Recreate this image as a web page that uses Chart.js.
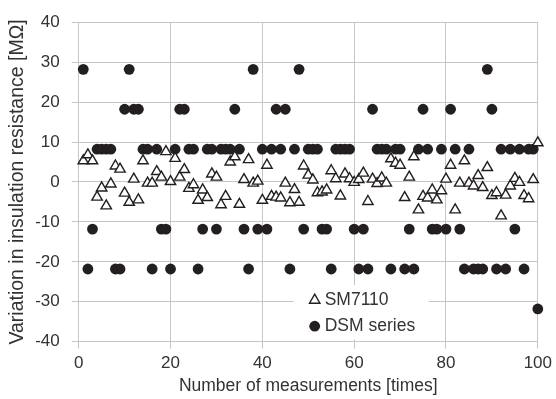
<!DOCTYPE html>
<html><head><meta charset="utf-8">
<script src="https://cdn.jsdelivr.net/npm/chart.js@4.4.0/dist/chart.umd.min.js"></script>
<style>html,body{margin:0;padding:0;background:#fff;}#wrap{width:556px;height:399px;}</style>
</head><body><div id="wrap"><canvas id="c" width="556" height="399"></canvas></div>
<script>
const measurements = [1,2,3,4,5,6,7,8,9,10,11,12,13,14,15,16,17,18,19,20,21,22,23,24,25,26,27,28,29,30,31,32,33,34,35,36,37,38,39,40,41,42,43,44,45,46,47,48,49,50,51,52,53,54,55,56,57,58,59,60,61,62,63,64,65,66,67,68,69,70,71,72,73,74,75,76,77,78,79,80,81,82,83,84,85,86,87,88,89,90,91,92,93,94,95,96,97,98,99,100];
const sm7110 = [5.3,6.8,5.3,-3.8,-1.5,-6.0,-0.5,4.0,3.2,-2.8,-5.1,0.7,-4.5,5.3,-0.3,-0.3,2.6,1.2,7.6,0.1,5.9,1.2,3.1,-1.6,-0.7,-4.6,-2.0,-3.9,2.0,1.2,-5.7,-3.6,5.0,6.3,-5.6,0.6,5.6,-0.3,0.2,-4.6,4.2,-3.6,-3.8,-4.0,-0.3,-5.2,-1.9,-5.1,4.0,1.7,0.5,-2.7,-2.5,-2.0,2.8,0.8,-3.5,2.0,0.8,-0.1,0.6,2.2,-4.9,0.7,-0.4,1.0,-0.3,5.8,4.7,4.2,-3.9,1.2,6.3,-7.0,-3.6,-4.0,-2.0,-4.5,-2.2,0.7,4.2,-7.0,-0.3,5.3,-0.3,-1.0,1.6,-1.4,3.6,-3.4,-2.7,-8.5,-3.3,-1.0,0.9,-0.1,-3.4,-4.2,0.6,9.8];
const dsmSeries = [28.2,-21.8,-11.8,8.2,8.2,8.2,8.2,-21.8,-21.8,18.2,28.2,18.2,18.2,8.2,8.2,-21.8,8.2,-11.8,-11.8,-21.8,8.2,18.2,18.2,8.2,8.2,-21.8,-11.8,8.2,8.2,-11.8,8.2,8.2,8.2,18.2,8.2,-11.8,-21.8,28.2,-11.8,8.2,-11.8,8.2,18.2,8.2,18.2,-21.8,8.2,28.2,-11.8,8.2,8.2,8.2,-11.8,-11.8,-21.8,8.2,8.2,8.2,8.2,-11.8,-21.8,-11.8,-21.8,18.2,8.2,8.2,8.2,-21.8,8.2,8.2,-21.8,-11.8,-21.8,8.2,18.2,8.2,-11.8,-11.8,8.2,-11.8,18.2,8.2,-11.8,-21.8,8.2,-21.8,-21.8,-21.8,28.2,18.2,-21.8,8.2,-21.8,8.2,-11.8,8.2,-21.8,8.2,8.2,-31.8];
const xTickValues = [0,20,40,60,80,100];
const yTickValues = [-40,-30,-20,-10,0,10,20,30,40];
const seriesNames = ['SM7110','DSM series'];

const INK = '#231f20';
const TEXT = '#333333';
const GRID = '#c6c6c6';
const FONT = 'Liberation Sans, Arial, sans-serif';

const toPoints = (vals) => measurements.map((m, i) => ({x: m, y: vals[i]}));

const legendBox = {
  id: 'legendBox',
  afterDatasetsDraw(chart) {
    const ctx = chart.ctx;
    const a = chart.chartArea;
    const bx = a.left + 215, by = a.top + 263, bw = 135, bh = 54;
    ctx.save();
    ctx.fillStyle = '#ffffff';
    ctx.fillRect(bx, by, bw, bh);
    const rows = [
      {ds: chart.data.datasets[0], y: by + 15},
      {ds: chart.data.datasets[1], y: by + 41}
    ];
    rows.forEach(r => {
      ctx.fillStyle = r.ds.backgroundColor; ctx.strokeStyle = r.ds.borderColor;
      ctx.lineWidth = r.ds.borderWidth;
      Chart.helpers.drawPoint(ctx, {
        pointStyle: r.ds.pointStyle, radius: r.ds.pointRadius, rotation: 0,
        borderWidth: r.ds.borderWidth
      }, bx + 21, r.y);
      ctx.fillStyle = TEXT;
      ctx.font = '17.5px ' + FONT;
      ctx.textBaseline = 'middle';
      ctx.textAlign = 'left';
      ctx.fillText(r.ds.label, bx + 31, r.y);
    });
    ctx.restore();
  }
};

new Chart(document.getElementById('c'), {
  type: 'scatter',
  data: {
    datasets: [
      {label: seriesNames[0], data: toPoints(sm7110), pointStyle: 'triangle', pointRadius: 6,
       borderColor: INK, backgroundColor: '#ffffff', borderWidth: 1.4, showLine: false, clip: false},
      {label: seriesNames[1], data: toPoints(dsmSeries), pointStyle: 'circle', pointRadius: 5.4,
       borderColor: INK, backgroundColor: INK, borderWidth: 0, showLine: false, clip: false}
    ]
  },
  options: {
    responsive: false, animation: false, devicePixelRatio: 1,
    layout: {padding: {left: 0, right: 16, top: 19, bottom: 0}},
    plugins: {legend: {display: false}, tooltip: {enabled: false}},
    scales: {
      x: {
        type: 'linear', min: 0, max: 100,
        afterBuildTicks: (s) => { s.ticks = xTickValues.map(v => ({value: v})); },
        afterFit: (s) => { s.height = 57.3; },
        grid: {color: GRID, lineWidth: 1, tickLength: 7, drawTicks: true},
        border: {color: GRID, width: 1},
        ticks: {color: TEXT, font: {family: FONT, size: 17}, padding: 4, maxRotation: 0},
        title: {display: true, text: 'Number of measurements [times]', color: TEXT,
                font: {family: FONT, size: 17.5}, padding: {top: 0, bottom: 2}}
      },
      y: {
        type: 'linear', min: -40, max: 40,
        afterBuildTicks: (s) => { s.ticks = yTickValues.map(v => ({value: v})); },
        afterFit: (s) => { s.width = 78.7; },
        grid: {color: GRID, lineWidth: 1, tickLength: 7, drawTicks: true},
        border: {color: GRID, width: 1},
        ticks: {color: TEXT, font: {family: FONT, size: 17}, padding: 12},
        title: {display: true, text: 'Variation in insulation resistance [MΩ]', color: TEXT,
                font: {family: FONT, size: 19.5}, padding: {top: 6, bottom: 0}}
      }
    }
  },
  plugins: [legendBox]
});
</script></body></html>
